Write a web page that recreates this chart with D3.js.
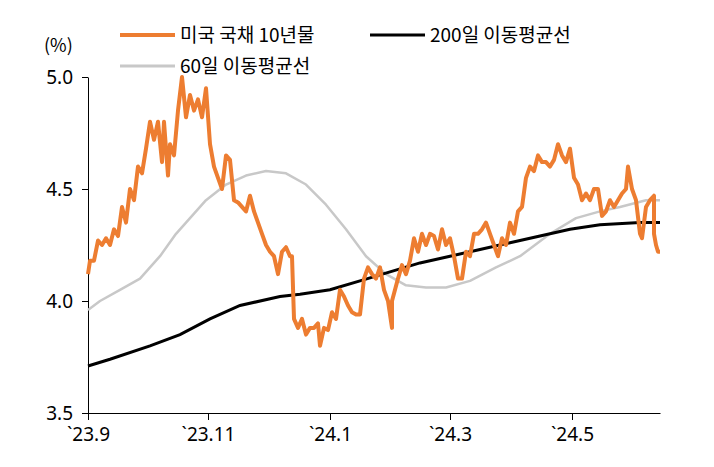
<!DOCTYPE html>
<html><head><meta charset="utf-8">
<script src="https://cdn.jsdelivr.net/npm/d3@7"></script>
<style>body{margin:0;background:#fff;font-family:"Noto Sans CJK KR","Noto Sans",sans-serif;}</style>
</head><body><div id="chart"></div>
<script>
// day offsets from 2023-09-01 and values
const tsyDays = [0,1,3,5,7,9,11,13,15,17,19,21,23,25,27,29,31,33,35,37,38,40,41,43,45,47,49,51,53,55,57,59,61,63,65,67,69,71,73,75,77,79,81,83,85,87,89,91,93,95,97,99,101,102,103,105,107,109,111,113,115,116,118,120,122,124,126,128,130,132,134,136,138,140,142,144,146,148,150,152,152,155,157,159,161,163,165,167,169,171,173,175,177,179,181,183,185,187,189,191,193,195,197,199,201,203,205,207,209,211,213,215,217,219,221,223,225,227,229,231,233,235,237,239,241,243,245,247,249,251,253,255,257,259,261,263,265,267,269,270,272,274,276,277,279,281,283,283,284,285,286];
const tsyValues = [4.12,4.18,4.18,4.27,4.25,4.28,4.25,4.32,4.29,4.42,4.35,4.50,4.45,4.60,4.57,4.68,4.80,4.72,4.80,4.62,4.80,4.56,4.70,4.65,4.85,5.00,4.82,4.92,4.85,4.90,4.82,4.95,4.70,4.60,4.55,4.50,4.65,4.63,4.45,4.44,4.42,4.40,4.47,4.40,4.35,4.30,4.25,4.22,4.20,4.12,4.22,4.24,4.20,4.20,3.92,3.88,3.92,3.85,3.88,3.88,3.90,3.80,3.88,3.87,3.95,3.92,4.05,4.02,3.98,3.95,3.94,3.94,4.10,4.15,4.12,4.10,4.15,4.05,4.00,3.88,4.00,4.10,4.16,4.12,4.18,4.28,4.22,4.30,4.25,4.30,4.29,4.23,4.32,4.25,4.28,4.20,4.10,4.10,4.22,4.20,4.30,4.30,4.32,4.35,4.30,4.25,4.20,4.28,4.25,4.35,4.30,4.40,4.42,4.55,4.60,4.58,4.65,4.62,4.62,4.60,4.63,4.70,4.65,4.62,4.68,4.55,4.52,4.45,4.48,4.45,4.50,4.50,4.38,4.40,4.45,4.42,4.45,4.48,4.50,4.60,4.50,4.45,4.30,4.28,4.42,4.45,4.47,4.30,4.25,4.22,4.22];
const ma200Days = [0,11,31,46,61,76,96,106,121,136,151,166,181,196,211,226,241,256,276,286];
const ma200Values = [3.71,3.74,3.80,3.85,3.92,3.98,4.02,4.03,4.05,4.09,4.13,4.17,4.20,4.23,4.26,4.29,4.32,4.34,4.35,4.35];
const ma60Days = [0,6,16,26,36,44,54,59,69,79,89,99,109,119,129,139,149,159,169,179,191,204,216,231,244,256,266,279,286];
const ma60Values = [3.96,4.00,4.05,4.10,4.20,4.30,4.40,4.45,4.52,4.56,4.58,4.57,4.52,4.43,4.32,4.20,4.12,4.07,4.06,4.06,4.09,4.15,4.20,4.30,4.37,4.40,4.42,4.45,4.45];
const xTickDays = [0,60,121,181,242];
const xTickLabels = ["`23.9","`23.11","`24.1","`24.3","`24.5"];
const yTicks = [3.5,4.0,4.5,5.0];

const w = 714, h = 467;
const svg = d3.select("#chart").append("svg").attr("width", w).attr("height", h);
const x = d3.scaleLinear().domain([0, 286]).range([88, 660]);
const y = d3.scaleLinear().domain([3.5, 5.0]).range([413, 77]);

svg.append("g").attr("transform", "translate(88,0)")
  .call(d3.axisLeft(y).tickValues(yTicks).tickFormat(d3.format(".1f")).tickSize(6).tickSizeOuter(0))
  .call(g => g.selectAll("text").attr("font-size", 19).attr("fill", "#000").attr("font-family", "Noto Sans").attr("dx", -6))
  .call(g => g.selectAll("line,path").attr("stroke", "#000"));
svg.append("g").attr("transform", "translate(0,413)")
  .call(d3.axisBottom(x).tickValues(xTickDays).tickFormat((d, i) => xTickLabels[i]).tickSize(7).tickSizeOuter(0))
  .call(g => g.selectAll("text").attr("font-size", 19).attr("fill", "#000").attr("font-family", "Noto Sans").attr("dy", 18))
  .call(g => g.selectAll("line,path").attr("stroke", "#000"));

const line = (days, vals) => d3.line().x((d, i) => x(days[i])).y(d => y(d))(vals);
svg.append("path").attr("d", line(ma60Days, ma60Values)).attr("fill", "none").attr("stroke", "#c8c8c8").attr("stroke-width", 2.5).attr("stroke-linejoin", "round");
svg.append("path").attr("d", line(ma200Days, ma200Values)).attr("fill", "none").attr("stroke", "#000").attr("stroke-width", 3);
svg.append("path").attr("d", line(tsyDays, tsyValues)).attr("fill", "none").attr("stroke", "#ed7d31").attr("stroke-width", 4).attr("stroke-linejoin", "round");

svg.append("text").attr("x", 44).attr("y", 52).attr("font-size", 18).text("(%)");

const legend = [
  { label: "미국 국채 10년물", color: "#ed7d31", x: 120, y: 35, sw: 4 },
  { label: "200일 이동평균선", color: "#000", x: 370, y: 35, sw: 3 },
  { label: "60일 이동평균선", color: "#c8c8c8", x: 120, y: 66, sw: 3 },
];
legend.forEach(d => {
  svg.append("line").attr("x1", d.x).attr("x2", d.x + 55).attr("y1", d.y).attr("y2", d.y).attr("stroke", d.color).attr("stroke-width", d.sw);
  svg.append("text").attr("x", d.x + 60).attr("y", d.y + 7).attr("font-size", 19).text(d.label);
});
</script></body></html>
